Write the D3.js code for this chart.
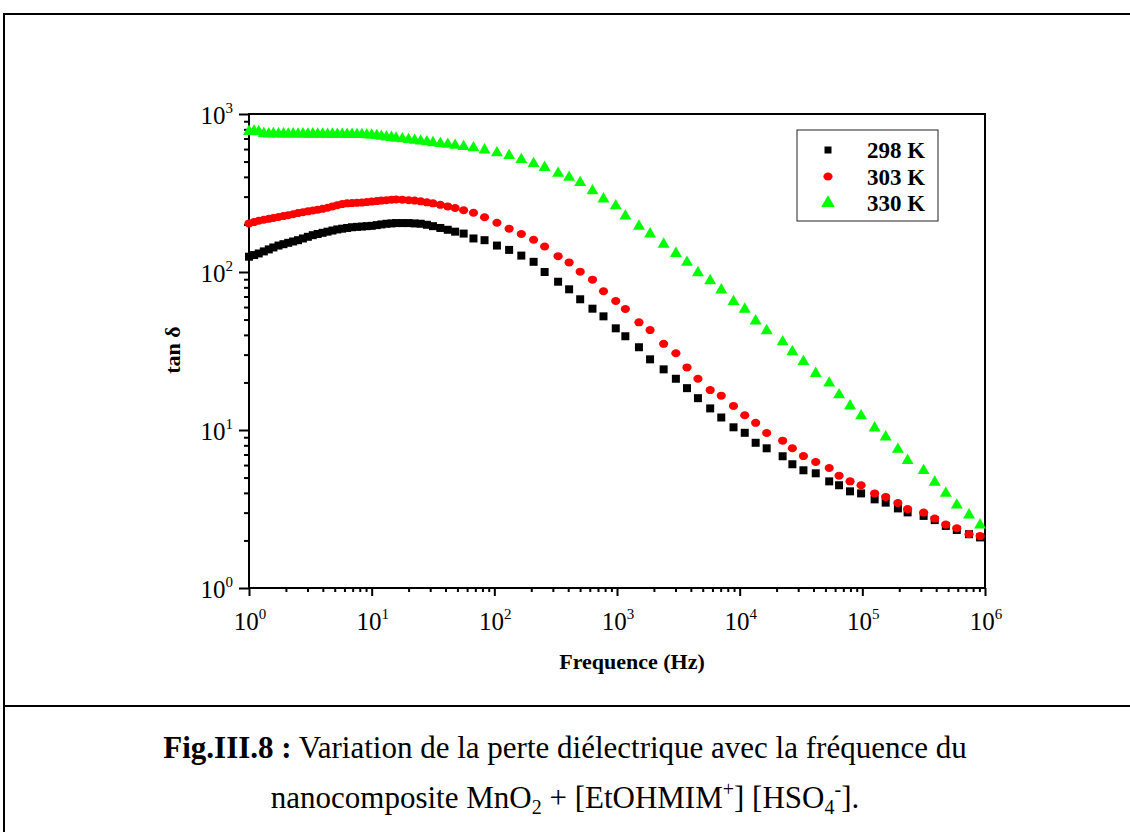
<!DOCTYPE html>
<html>
<head>
<meta charset="utf-8">
<script src="https://cdn.jsdelivr.net/npm/d3@7"></script>
<style>
  body { margin: 0; background: #fff; }
  svg { display: block; }
  text { font-family: "Liberation Serif", "Times New Roman", serif; fill: #000; }
</style>
</head>
<body>
<div id="chart"></div>
<script>
// frequencies (Hz), shared by the three temperatures
var freq = [1, 1.10, 1.20, 1.32, 1.45, 1.58, 1.74, 1.91, 2.09, 2.29,
    2.51, 2.75, 3.02, 3.31, 3.63, 3.98, 4.37, 4.79, 5.25, 5.75,
    6.31, 6.92, 7.59, 8.32, 9.12, 10.0, 11.0, 12.0, 13.2, 14.5,
    15.8, 17.8, 20.0, 22.4, 25.1, 28.2, 31.6, 36.3, 41.7, 47.9,
    56.2, 67.6, 83.2, 105, 132, 166, 209,
    257, 331, 407, 501, 631, 776, 977, 1170, 1510, 1860,
    2400, 3020, 3720, 4570, 5750, 7080, 8910, 11000, 13500, 16600,
    22400, 26900, 33100, 41700, 53700, 64600, 79400, 97700, 126000, 155000,
    195000, 234000, 316000, 389000, 479000, 589000, 741000, 912000];

var tan298 = [125, 128, 131, 135, 139, 143, 147, 150, 153, 156,
    159, 163, 167, 171, 174, 177, 180, 183, 186, 188,
    190, 192, 193, 194, 195, 196, 198, 200, 202, 203,
    204, 204, 204, 203, 202, 199, 195, 190, 185, 180,
    175, 163, 159, 147, 138, 127, 116,
    100, 86.8, 77.7, 67.2, 58.6, 52.4, 44.0, 39.2, 33.4, 28.0,
    24.2, 21.1, 18.4, 15.9, 13.7, 12.0, 10.4, 9.6, 8.3, 7.66,
    6.82, 6.07, 5.56, 5.32, 4.73, 4.47, 4.09, 3.97, 3.64, 3.47,
    3.19, 3.01, 2.86, 2.69, 2.47, 2.33, 2.19, 2.09];

var tan303 = [203, 207, 211, 214, 217, 220, 223, 226, 229, 232,
    236, 239, 242, 245, 248, 251, 255, 260, 265, 269,
    272, 273, 274, 275, 277, 279, 281, 283, 285, 287,
    288, 287, 285, 283, 280, 276, 272, 266, 260, 254,
    246, 237, 222, 205, 188, 174, 160,
    145, 126, 115, 100.5, 89.4, 75.5, 65.5, 58.3, 48.0, 42.9,
    35.1, 30.6, 24.9, 21.1, 17.9, 16.5, 14.2, 12.4, 11.1, 9.57,
    8.56, 7.66, 6.84, 6.27, 5.75, 5.14, 4.73, 4.47, 3.97, 3.77,
    3.45, 3.16, 3.00, 2.75, 2.52, 2.39, 2.19, 2.13];

var tan330 = [775, 778, 772, 752, 748, 750, 747, 748, 746, 748,
    746, 747, 745, 747, 745, 746, 744, 745, 743, 744,
    742, 743, 740, 741, 738, 735, 730, 722, 715, 710,
    703, 696, 688, 681, 674, 666, 658, 650, 642, 633,
    622, 610, 592, 568, 545, 515, 485,
    459, 421, 397, 368, 326, 290, 262, 226, 195, 174,
    150, 131, 115, 99, 88, 76.9, 64.9, 58.1, 49.0, 42.5,
    36.1, 31.3, 27.1, 22.8, 19.8, 16.7, 14.2, 12.3, 10.3, 9.03,
    7.55, 6.40, 5.53, 4.67, 3.97, 3.35, 2.90, 2.50];

var seriesNames = ['298 K', '303 K', '330 K'];
var xTicks = [1, 10, 100, 1e3, 1e4, 1e5, 1e6];
var yTicks = [1, 10, 100, 1000];

var W = 1130, H = 832;
var svg = d3.select('#chart').append('svg')
    .attr('width', W)
    .attr('height', H);

var plot = {left: 249, right: 985, top: 114, bottom: 588};

var x = d3.scaleLog().domain([1, 1e6]).range([plot.left, plot.right]);
var y = d3.scaleLog().domain([1, 1000]).range([plot.bottom, plot.top]);

// minor ticks 2..9 in every decade
function minors(lo, hi) {
    var out = [];
    for (var e = lo; e < hi; e++)
        for (var k = 2; k <= 9; k++) out.push(k * Math.pow(10, e));
    return out;
}

// page frame and caption separator
svg.append('line').attr('x1', 4).attr('x2', W).attr('y1', 14).attr('y2', 14)
    .attr('stroke', '#000').attr('stroke-width', 2);
svg.append('line').attr('x1', 4).attr('x2', 4).attr('y1', 13).attr('y2', H)
    .attr('stroke', '#000').attr('stroke-width', 2);
svg.append('line').attr('x1', 4).attr('x2', W).attr('y1', 706).attr('y2', 706)
    .attr('stroke', '#000').attr('stroke-width', 2);

// axes
var xAxis = svg.append('g').attr('transform', 'translate(0,' + plot.bottom + ')');
xAxis.call(d3.axisBottom(x).tickValues(minors(0, 6)).tickSize(4).tickSizeOuter(0).tickFormat(''));
xAxis.append('g').call(d3.axisBottom(x).tickValues(xTicks).tickSize(8).tickSizeOuter(0).tickFormat(''));

var yAxis = svg.append('g').attr('transform', 'translate(' + plot.left + ',0)');
yAxis.call(d3.axisLeft(y).tickValues(minors(0, 3)).tickSize(5).tickSizeOuter(0).tickFormat(''));
yAxis.append('g').call(d3.axisLeft(y).tickValues(yTicks).tickSize(10).tickSizeOuter(0).tickFormat(''));

svg.selectAll('.tick line').attr('stroke', '#000').attr('stroke-width', 2);
svg.selectAll('.domain').attr('stroke', 'none');

svg.append('rect')
    .attr('x', plot.left).attr('y', plot.top)
    .attr('width', plot.right - plot.left)
    .attr('height', plot.bottom - plot.top)
    .attr('fill', 'none').attr('stroke', '#000').attr('stroke-width', 2);

// power-of-ten labels
function powLabel(sel, v) {
    var e = Math.round(Math.log10(v));
    sel.append('tspan').text('10');
    sel.append('tspan').attr('dy', -11).attr('font-size', 15).text(e);
}

xTicks.forEach(function(v) {
    var t = svg.append('text')
        .attr('x', x(v) + 1).attr('y', plot.bottom + 42)
        .attr('text-anchor', 'middle')
        .attr('font-size', 25);
    powLabel(t, v);
});

yTicks.forEach(function(v) {
    var t = svg.append('text')
        .attr('x', plot.left - 16).attr('y', y(v) + 10)
        .attr('text-anchor', 'end')
        .attr('font-size', 25);
    powLabel(t, v);
});

svg.append('text')
    .attr('x', 632).attr('y', 669)
    .attr('text-anchor', 'middle')
    .attr('font-size', 22).attr('font-weight', 'bold')
    .text('Frequence (Hz)');

svg.append('text')
    .attr('transform', 'translate(180,350) rotate(-90)')
    .attr('text-anchor', 'middle')
    .attr('font-size', 22).attr('font-weight', 'bold')
    .text('tan δ');

// markers
var shapes = [
    d3.symbol().type(d3.symbolSquare).size(64),
    null,
    d3.symbol().type(d3.symbolTriangle).size(62)
];
var colors = ['#000000', '#ff0000', '#00ff00'];
var allSeries = [tan298, tan303, tan330];

allSeries.forEach(function(vals, i) {
    var g = svg.append('g').attr('fill', colors[i]);
    var pts = vals.map(function(v, j) { return [freq[j], v]; });
    if (i === 1) {
        g.selectAll('ellipse').data(pts).enter().append('ellipse')
            .attr('cx', d => x(d[0])).attr('cy', d => y(d[1]))
            .attr('rx', 4.6).attr('ry', 4);
    } else {
        g.selectAll('path').data(pts).enter().append('path')
            .attr('transform', d => 'translate(' + x(d[0]) + ',' + y(d[1]) + ')')
            .attr('d', shapes[i]);
    }
});

// legend
var legend = svg.append('g');
legend.append('rect')
    .attr('x', 797).attr('y', 130).attr('width', 141).attr('height', 91)
    .attr('fill', '#fff').attr('stroke', '#222').attr('stroke-width', 1);
seriesNames.forEach(function(name, i) {
    var cy = 150 + i * 26.5;
    if (i === 1) {
        legend.append('ellipse').attr('cx', 828).attr('cy', cy)
            .attr('rx', 4.6).attr('ry', 4).attr('fill', colors[i]);
    } else {
        legend.append('path').attr('transform', 'translate(828,' + cy + ')')
            .attr('d', i === 0 ? d3.symbol().type(d3.symbolSquare).size(49)()
                               : d3.symbol().type(d3.symbolTriangle).size(80)())
            .attr('fill', colors[i]);
    }
    legend.append('text')
        .attr('x', 867).attr('y', cy + 8)
        .attr('font-size', 23).attr('font-weight', 'bold')
        .text(name);
});

// caption
var cap1 = svg.append('text')
    .attr('x', 565).attr('y', 758)
    .attr('text-anchor', 'middle')
    .attr('font-size', 31);
cap1.append('tspan').attr('font-weight', 'bold').text('Fig.III.8 :');
cap1.append('tspan').text(' Variation de la perte diélectrique avec la fréquence du');

var cap2 = svg.append('text')
    .attr('x', 565).attr('y', 808)
    .attr('text-anchor', 'middle')
    .attr('font-size', 31);
cap2.append('tspan').text('nanocomposite MnO');
cap2.append('tspan').attr('font-size', 20).attr('dy', 6).text('2');
cap2.append('tspan').attr('dy', -6).text(' + [EtOHMIM');
cap2.append('tspan').attr('font-size', 20).attr('dy', -12).text('+');
cap2.append('tspan').attr('dy', 12).text('] [HSO');
cap2.append('tspan').attr('font-size', 20).attr('dy', 6).text('4');
cap2.append('tspan').attr('font-size', 20).attr('dy', -18).text('-');
cap2.append('tspan').attr('dy', 12).text('].');
</script>
</body>
</html>
